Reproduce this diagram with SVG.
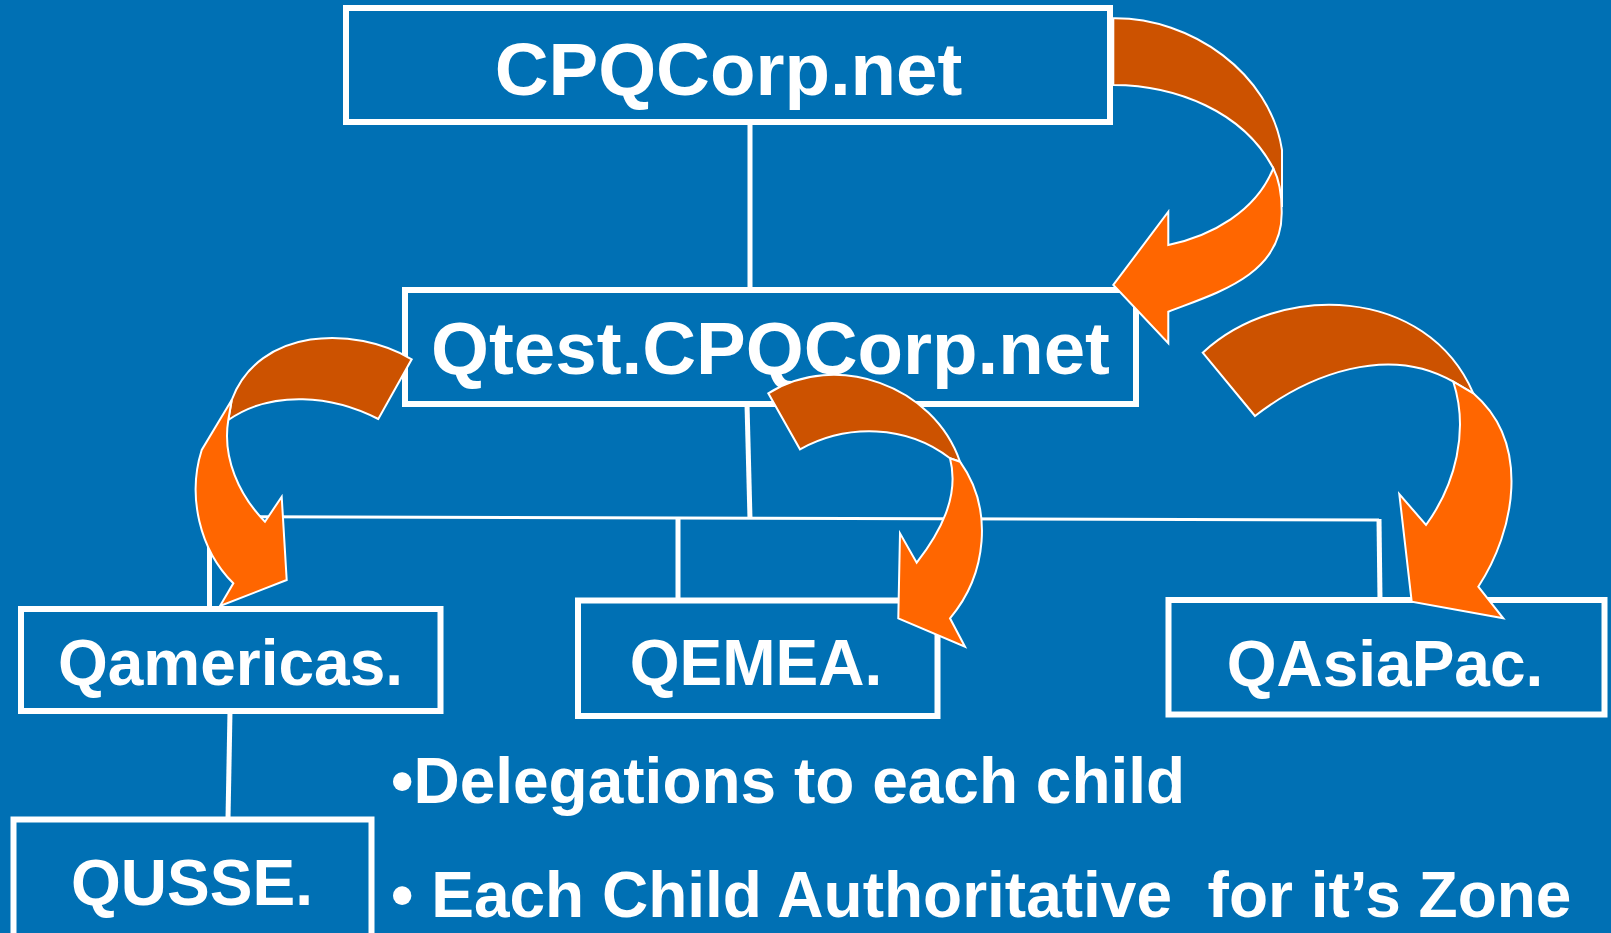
<svg xmlns="http://www.w3.org/2000/svg" width="1611" height="933" viewBox="0 0 1611 933">
  <style>
    .box { fill: none; stroke: #ffffff; stroke-width: 6; }
    .lbl { font-family: "Liberation Sans", Arial, sans-serif; font-weight: bold; fill: #ffffff; text-anchor: middle; }
    .note { font-family: "Liberation Sans", Arial, sans-serif; font-weight: bold; fill: #ffffff; font-size: 64px; white-space: pre; }
    .wire { stroke: #ffffff; stroke-width: 5; fill: none; }
    .bus { stroke: #ffffff; stroke-width: 3; fill: none; }
    .back { fill: #cc5200; stroke: #ffffff; stroke-width: 2; stroke-linejoin: miter; }
    .front { fill: #ff6600; stroke: #ffffff; stroke-width: 2; stroke-linejoin: miter; }
  </style>
  <rect x="0" y="0" width="1611" height="933" fill="#0070b4"/>

  <!-- tree connectors -->
  <g id="connectors">
    <line class="wire" x1="750" y1="122" x2="750" y2="290"/>
    <line class="wire" x1="747" y1="404" x2="750" y2="519"/>
    <line class="bus" x1="209" y1="516.5" x2="1379" y2="520"/>
    <line class="wire" x1="209.5" y1="516" x2="209.5" y2="606"/>
    <line class="wire" x1="678" y1="518" x2="678" y2="600"/>
    <line class="wire" x1="1379" y1="519" x2="1380" y2="600"/>
    <line class="wire" x1="230" y1="711" x2="228" y2="819"/>
  </g>

  <!-- zone nodes -->
  <g id="node-root">
    <rect class="box" x="346" y="8" width="764" height="114"/>
    <text class="lbl" x="728.5" y="95" font-size="74.5">CPQCorp.net</text>
  </g>
  <g id="node-qtest">
    <rect class="box" x="405" y="290" width="731" height="114"/>
    <text class="lbl" x="770.5" y="374" font-size="74.5">Qtest.CPQCorp.net</text>
  </g>
  <g id="node-qamericas">
    <rect class="box" x="21" y="609" width="419.5" height="102"/>
    <text class="lbl" x="230.5" y="685" font-size="64">Qamericas.</text>
  </g>
  <g id="node-qemea">
    <rect class="box" x="578" y="600.5" width="359.5" height="115.5"/>
    <text class="lbl" x="756" y="685" font-size="64">QEMEA.</text>
  </g>
  <g id="node-qasiapac">
    <rect class="box" x="1168.5" y="600" width="436" height="114.5"/>
    <text class="lbl" x="1385" y="686" font-size="64">QAsiaPac.</text>
  </g>
  <g id="node-qusse">
    <rect class="box" x="13.5" y="819.5" width="358" height="140"/>
    <text class="lbl" x="192" y="905" font-size="64">QUSSE.</text>
  </g>

  <!-- delegation arrows (curved, two-tone) -->
  <g id="delegation-root">
    <path class="back" d="M1113.3 18.3 C1191.6 17.4 1270.2 73.4 1282 150 L1282 207 L1273.3 168.3 C1243.1 111 1175.5 85.3 1113.3 85 Z"/>
    <path class="front" d="M1273.3 168.3 Q1282 185 1281.7 213.3 C1281.7 275.7 1214.7 293.6 1168.3 311.7 L1168.3 343.3 L1113.3 285 L1168.3 211.7 L1168.3 245 C1211.7 235.8 1256.2 211.4 1273.3 168.3 Z"/>
  </g>
  <g id="delegation-americas">
    <path class="back" d="M411.7 359.3 C354.4 325.2 258.9 327.2 231.7 400 L228.3 420 C272.5 389.4 332.8 395.5 378.3 419 Z"/>
    <path class="front" d="M231.7 400 L201.7 450 C187.2 495.9 199.4 549.4 233.3 583.3 L220 606 L286.7 580 L281.7 496.7 L265 521.7 C239.1 495.2 222.1 457.7 228.3 420 Z"/>
  </g>
  <g id="delegation-emea">
    <path class="back" d="M768.3 393.3 C835.8 350.7 933.9 385.2 960 461.7 L950 458.3 C907 424.6 846.7 423.4 800 449.3 Z"/>
    <path class="front" d="M960 461.7 C994 509 986.8 574.7 950 618.3 L965 646.7 L898.3 618.3 L900 533.3 L916.7 562.7 C939.5 533.3 960 496.7 950 458.3 Z"/>
  </g>
  <g id="delegation-asiapac">
    <path class="back" d="M1202.7 352.7 C1279.7 281.3 1427 285.7 1473.3 393.3 L1453.3 381.7 C1388.1 343.9 1308.5 374.6 1255 416 Z"/>
    <path class="front" d="M1473.3 393.3 C1531.5 443.4 1514.9 530.9 1478.3 586.7 L1503.3 618.3 L1411.7 601.7 L1399.3 494 L1426 525 C1455.5 484.4 1469.1 430.7 1453.3 381.7 Z"/>
  </g>

  <!-- notes -->
  <g id="notes">
    <text class="note" x="391" y="803">•Delegations to each child</text>
    <text class="note" x="391" y="917">• Each Child Authoritative  for it’s Zone</text>
  </g>
</svg>
